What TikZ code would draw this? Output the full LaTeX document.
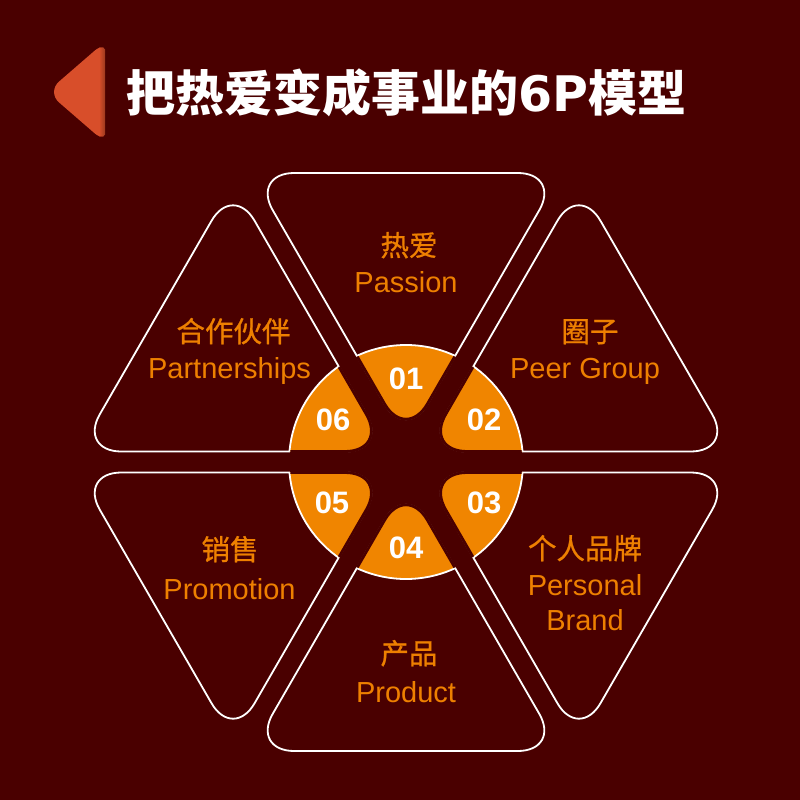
\documentclass[tikz,border=0pt]{standalone}
\usepackage{fontspec}
\setmainfont{Liberation Sans}
\newfontfamily\cjk{Noto Sans CJK SC}
\newfontfamily\cjkm{Noto Sans CJK SC}[FakeBold=0.8]
\newfontfamily\dejab{DejaVu Sans}
\definecolor{bg}{RGB}{74,0,0}
\definecolor{org}{RGB}{240,133,0}
\definecolor{txto}{RGB}{238,128,0}
\definecolor{arrowc}{RGB}{216,78,42}
\def\tA{(406,441) -- (251.25,173) -- (560.75,173) -- cycle}
\def\tB{(424.19,451.5) -- (733.69,451.5) -- (578.94,183.5) -- cycle}
\def\tC{(424.19,472.5) -- (733.69,472.5) -- (578.94,740.5) -- cycle}
\def\tD{(406,483) -- (251.25,751) -- (560.75,751) -- cycle}
\def\tE{(387.81,472.5) -- (78.31,472.5) -- (233.06,740.5) -- cycle}
\def\tF{(387.81,451.5) -- (78.31,451.5) -- (233.06,183.5) -- cycle}
\begin{document}
\begin{tikzpicture}[x=1pt,y=-1pt,
  tri/.style={rounded corners=43pt},
  tribox/.style={tri, draw=white, line width=1.8pt, fill=bg},
  en/.style={text=txto, anchor=base, inner sep=0pt, font=\fontsize{29}{34}\selectfont},
  cn/.style={text=txto, anchor=base, inner sep=0pt, font=\cjkm\fontsize{28.5}{34}\selectfont},
  num/.style={text=white, anchor=base, inner sep=0pt, font=\bfseries\fontsize{31}{31}\selectfont}]
\fill[bg] (0,0) rectangle (800,800);
\useasboundingbox (0,0) rectangle (800,800);
% title arrow
\begin{scope}
  \clip (40,30) rectangle (105,150);
  \clip[rounded corners=16pt] (107,40) -- (107,144) -- (47,92) -- cycle;
  \fill[arrowc] (40,30) rectangle (105,150);
  \shade[left color=arrowc, right color=arrowc!70!black] (99,30) rectangle (105.5,150);
\end{scope}
\node[anchor=base west, inner sep=0pt, text=white, font=\fontsize{49}{53}\selectfont] (title) at (126,111)
  {{\cjk\bfseries 把热爱变成事业的}{\dejab\bfseries 6P}{\cjk\bfseries 模型}};
% triangles
\draw[tribox] \tA;
\draw[tribox] \tB;
\draw[tribox] \tC;
\draw[tribox] \tD;
\draw[tribox] \tE;
\draw[tribox] \tF;
% orange centre
\begin{scope}
  \clip[tri] \tA \tB \tC \tD \tE \tF;
  \fill[org] (406,462) circle (117pt);
  \draw[white, line width=1.8pt] (406,462) circle (117pt);
\end{scope}
\begin{scope}
  \clip (406,462) circle (116.2pt);
  \draw[tri, bg, line width=2.8pt] \tA \tB \tC \tD \tE \tF;
\end{scope}
% numbers
\node[num] (n1) at (406,389) {01};
\node[num] (n2) at (484,430) {02};
\node[num] (n3) at (484,513) {03};
\node[num] (n4) at (406,558) {04};
\node[num] (n5) at (332,513) {05};
\node[num] (n6) at (333,430) {06};
% labels
\node[cn] (c1) at (409,256) {热爱};
\node[en] (e1) at (406,292) {Passion};
\node[cn] (c2) at (590,342) {圈子};
\node[en] (e2) at (585,378) {Peer Group};
\node[cn] (c3) at (585,559) {个人品牌};
\node[en] (e3a) at (585,595) {Personal};
\node[en] (e3b) at (585,630) {Brand};
\node[cn] (c4) at (409,664) {产品};
\node[en] (e4) at (406,702) {Product};
\node[cn] (c5) at (230,560) {销售};
\node[en] (e5) at (229.5,599) {Promotion};
\node[cn] (c6) at (233.5,342) {合作伙伴};
\node[en] (e6) at (229.5,378) {Partnerships};
\end{tikzpicture}
\end{document}
